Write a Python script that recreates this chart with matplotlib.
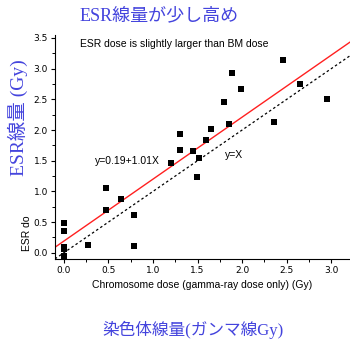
import matplotlib.pyplot as plt
import numpy as np

# chromosome dose (Gy) vs ESR dose (Gy)
chromo_dose = [0.0, 0.0, 0.0, 0.0, 0.0, 0.27, 0.47, 0.47, 0.64, 0.79,
               0.79, 1.20, 1.30, 1.30, 1.45, 1.49, 1.52, 1.60, 1.65, 1.80,
               1.85, 1.89, 1.99, 2.36, 2.46, 2.65, 2.95]
esr_dose = [0.49, 0.35, 0.10, 0.06, -0.06, 0.12, 1.06, 0.70, 0.88, 0.62,
            0.11, 1.46, 1.93, 1.67, 1.66, 1.23, 1.54, 1.83, 2.02, 2.46,
            2.10, 2.93, 2.67, 2.13, 3.14, 2.75, 2.50]

fit_a, fit_b = 0.19, 1.01
x_lim = (-0.1, 3.21)
y_lim = (-0.1, 3.55)

blue = "#4444dd"
jp_serif = ["Liberation Serif", "Noto Sans CJK JP"]

fig = plt.figure(figsize=(3.5, 3.42), dpi=100)
ax = fig.add_axes([0.157, 0.243, 0.843, 0.655])

xs = np.array(x_lim)
ax.plot(xs, fit_a + fit_b * xs, color="#ff2020", lw=1.0)
ax.plot(xs, xs, color="black", lw=0.9, ls=(0, (2, 2)))
ax.scatter(chromo_dose, esr_dose, marker="s", s=18, color="black",
           zorder=3, linewidths=0)

ax.set_xlim(*x_lim)
ax.set_ylim(*y_lim)
ax.set_xticks(np.arange(0, 3.01, 0.5))
ax.set_yticks(np.arange(0, 3.51, 0.5))
ax.set_xticks(np.arange(0, 3.2, 0.25), minor=True)
ax.set_yticks(np.arange(0, 3.51, 0.25), minor=True)
ax.xaxis.set_major_formatter(plt.FormatStrFormatter("%.1f"))
ax.yaxis.set_major_formatter(plt.FormatStrFormatter("%.1f"))
ax.tick_params(labelsize=6.5, length=3, width=0.8, pad=2)
ax.tick_params(which="minor", length=2, width=0.7)
for side in ["top", "right"]:
    ax.spines[side].set_visible(False)

ax.set_xlabel("Chromosome dose (gamma-ray dose only) (Gy)", fontsize=7.5,
              family="Liberation Sans", labelpad=4)

ax.text(0.18, 3.40, "ESR dose is slightly larger than BM dose",
        fontsize=7.5, family="Liberation Sans", va="center")
ax.text(0.35, 1.50, "y=0.19+1.01X", fontsize=7.5,
        family="Liberation Sans", va="center")
ax.text(1.81, 1.60, "y=X", fontsize=7.5, family="Liberation Sans",
        va="center")

fig.text(27 / 350, 1 - 233 / 342, "ESR do", rotation=90, fontsize=7.5,
         family="Liberation Sans", ha="center", va="center")

fig.text(159 / 350, 1 - 16 / 342, "ESR線量が少し高め", color=blue,
         fontsize=13, family=jp_serif, ha="center", va="center")
fig.text(18 / 350, 1 - 118 / 342, "ESR線量 (Gy)", color=blue,
         fontsize=14, family=jp_serif, rotation=90, ha="center",
         va="center")
fig.text(193 / 350, 1 - 330 / 342, "染色体線量(ガンマ線Gy)", color=blue,
         fontsize=12, family=jp_serif, ha="center", va="center")

fig.savefig("out.png", dpi=100)
